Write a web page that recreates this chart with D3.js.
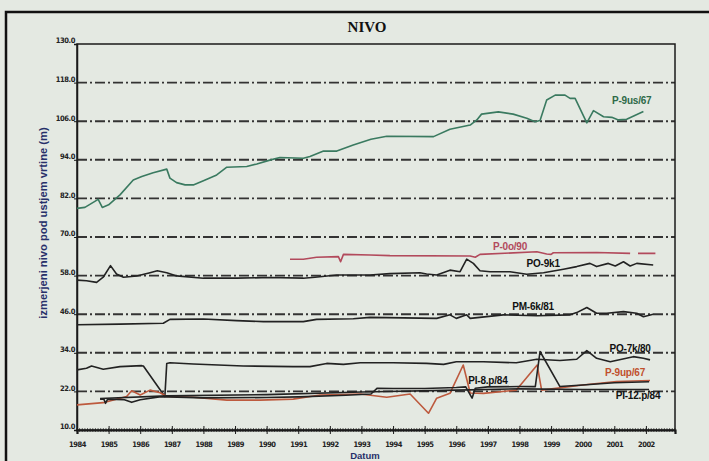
<!DOCTYPE html>
<html><head><meta charset="utf-8">
<script src="https://cdn.jsdelivr.net/npm/d3@7"></script>
<style>
html,body{margin:0;padding:0;background:#e4e9e2;}
svg{display:block;}
</style></head>
<body>
<script>
// ---- data ----
const yearTicks = d3.range(1984, 2003);
const yTicks = [10, 22, 34, 46, 58, 70, 82, 94, 106, 118, 130];

const p9us67 = [[1984.0,78.9],[1984.25,79.2],[1984.67,81.7],[1984.8,79.2],[1985.0,80.0],[1985.36,83.1],[1985.78,87.7],[1986.05,88.8],[1986.41,90.0],[1986.84,91.1],[1986.94,88.3],[1987.15,86.9],[1987.42,86.2],[1987.68,86.2],[1988.0,87.5],[1988.42,89.3],[1988.74,91.7],[1989.37,91.9],[1989.69,92.7],[1990.1,93.9],[1990.42,94.7],[1991.16,94.5],[1991.37,95.0],[1991.8,96.7],[1992.22,96.7],[1992.74,98.6],[1993.3,100.4],[1993.8,101.3],[1995.28,101.2],[1995.8,103.5],[1996.44,104.8],[1996.65,106.4],[1996.8,108.2],[1997.33,108.9],[1997.8,108.2],[1998.23,106.9],[1998.49,105.8],[1998.65,106.2],[1998.86,112.6],[1999.13,114.1],[1999.44,114.1],[1999.6,113.1],[1999.76,113.1],[2000.13,105.5],[2000.34,109.3],[2000.66,107.4],[2000.92,107.2],[2001.13,106.4],[2001.39,106.6],[2001.92,109.0]];

const p0o90 = [[1990.74,63.1],[1991.16,63.1],[1991.58,63.7],[1992.27,63.9],[1992.34,62.3],[1992.43,64.6],[1993.27,64.4],[1993.9,64.2],[1996.44,64.1],[1996.6,63.7],[1996.75,64.6],[1998.55,65.4],[1998.86,64.7],[1999.0,64.6],[1999.07,65.1],[2000.44,65.2],[2001.5,64.9],[2001.6,null],[2001.75,64.9],[2002.3,64.9]];

const po9k1 = [[1984.0,56.6],[1984.3,56.4],[1984.62,55.9],[1984.83,57.5],[1985.06,61.1],[1985.25,58.5],[1985.47,57.5],[1985.89,57.9],[1986.31,58.9],[1986.54,59.5],[1986.84,58.9],[1987.15,57.9],[1988.0,57.2],[1989.05,57.2],[1990.1,57.4],[1991.16,57.2],[1991.53,57.5],[1992.22,58.2],[1993.27,58.2],[1993.9,58.6],[1994.85,58.9],[1995.06,58.5],[1995.38,58.2],[1995.8,59.7],[1996.12,59.2],[1996.33,63.1],[1996.54,61.8],[1996.75,59.5],[1997.07,59.2],[1997.7,59.2],[1998.23,58.4],[1998.76,58.9],[1999.39,60.0],[1999.81,60.8],[2000.23,61.8],[2000.44,60.8],[2000.81,61.8],[2001.03,61.0],[2001.29,62.3],[2001.5,61.0],[2001.71,61.8],[2002.23,61.3]];

const pm6k81 = [[1984.0,42.7],[1985.36,42.9],[1986.73,43.2],[1986.94,44.4],[1988.0,44.5],[1989.05,44.0],[1989.9,43.7],[1991.16,43.7],[1991.58,44.4],[1992.74,44.6],[1993.27,45.0],[1995.38,44.7],[1995.8,45.8],[1996.0,44.7],[1996.33,45.8],[1996.44,44.7],[1997.49,45.8],[1998.55,45.5],[1999.6,45.8],[1999.81,46.5],[2000.13,48.1],[2000.44,46.3],[2000.76,46.3],[2001.29,46.8],[2001.71,46.3],[2001.92,45.2],[2002.23,46.0]];

const po7k80 = [[1984.0,28.7],[1984.3,29.2],[1984.46,29.9],[1984.83,28.9],[1985.36,29.7],[1986.05,30.0],[1986.1,29.9],[1986.78,20.4],[1986.84,30.7],[1986.94,30.9],[1987.68,30.5],[1989.26,29.9],[1990.84,29.7],[1991.37,29.7],[1991.9,30.7],[1992.43,30.4],[1992.96,30.9],[1994.0,30.9],[1995.06,30.7],[1995.6,30.4],[1996.0,31.2],[1996.86,31.2],[1997.9,30.9],[1998.55,32.0],[1999.28,31.6],[1999.81,32.0],[2000.13,34.7],[2000.44,32.3],[2000.87,31.2],[2001.6,32.8],[2001.92,32.3],[2002.13,31.8]];

const p9up67 = [[1984.0,17.8],[1984.83,18.5],[1985.57,20.4],[1985.73,22.2],[1986.0,20.9],[1986.31,22.4],[1986.63,21.6],[1986.84,20.4],[1987.68,20.2],[1988.74,19.3],[1989.79,19.3],[1990.84,19.6],[1991.69,20.9],[1992.96,21.2],[1993.8,20.2],[1994.54,21.2],[1995.12,15.2],[1995.38,19.9],[1995.8,21.4],[1996.22,30.2],[1996.44,21.5],[1996.86,21.4],[1997.9,22.4],[1998.56,30.2],[1998.7,22.4],[2000.0,24.0],[2001.07,25.1],[2002.13,25.4]];

const pi8p84 = [[1984.73,19.6],[1984.85,19.6],[1984.9,18.3],[1984.97,19.6],[1985.5,19.4],[1985.73,18.6],[1986.0,19.4],[1986.6,20.3],[1986.9,20.3],[1988.0,20.0],[1990.0,20.1],[1991.0,20.3],[1992.5,20.8],[1993.3,21.2],[1993.5,23.0],[1994.0,22.9],[1995.0,22.9],[1996.0,23.2],[1996.3,23.4],[1996.5,19.9],[1996.6,23.0],[1997.0,23.4],[1998.0,23.5],[1998.5,23.5],[1998.65,34.4],[1999.28,23.5],[2000.0,24.0],[2001.0,24.7],[2002.1,25.0]];

const pi12p84 = [[1984.73,19.8],[1986.84,20.6],[1990.0,21.0],[1993.0,21.8],[1996.0,22.4],[1998.0,22.8],[2000.0,22.6],[2002.1,22.6]];

const seriesList = [
  {name:"P-9us/67", data:p9us67, color:"#3a7a60", label:"#2e6a48", lx:2001.55, ly:111.4},
  {name:"P-0o/90", data:p0o90, color:"#b24a5c", label:"#b24a5c", lx:1997.7, ly:66.0},
  {name:"PO-9k1", data:po9k1, color:"#222", label:"#111", lx:1998.75, ly:60.6},
  {name:"PM-6k/81", data:pm6k81, color:"#222", label:"#111", lx:1998.43, ly:47.3},
  {name:"PO-7k/80", data:po7k80, color:"#222", label:"#111", lx:2001.5, ly:34.4},
  {name:"P-9up/67", data:p9up67, color:"#bd5a3e", label:"#c0502d", lx:2001.34, ly:26.8},
  {name:"PI-8.p/84", data:pi8p84, color:"#222", label:"#111", lx:1997.0, ly:24.3},
  {name:"PI-12.p/84", data:pi12p84, color:"#222", label:"#111", lx:2001.75, ly:19.5}
];
const title = "NIVO";
const yTitle = "izmerjeni nivo pod ustjem vrtine (m)";
const xTitle = "Datum";

// ---- drawing ----
const W = 709, H = 461;
const svg = d3.select("body").append("svg").attr("width", W).attr("height", H);
svg.append("rect").attr("width", W).attr("height", H).attr("fill", "#e4e9e2");

// outer frame
svg.append("rect").attr("x", 6).attr("y", 12).attr("width", 712).attr("height", 470)
  .attr("fill", "none").attr("stroke", "#111").attr("stroke-width", 2.5);

const x = d3.scaleLinear().domain([1984, 2002.92]).range([77, 675]);
const y = d3.scaleLinear().domain([10, 130]).range([430, 44]);

// gridlines
svg.append("g").selectAll("line").data(yTicks.filter(d => d > 10 && d < 130)).join("line")
  .attr("x1", x.range()[0]).attr("x2", x.range()[1])
  .attr("y1", d => y(d)).attr("y2", d => y(d))
  .attr("stroke", "#333").attr("stroke-width", 1.9)
  .attr("stroke-dasharray", "10,3,2,3");

// plot border
svg.append("rect").attr("x", x.range()[0]).attr("y", y(130)).attr("width", x.range()[1] - x.range()[0]).attr("height", y(10) - y(130))
  .attr("fill", "none").attr("stroke", "#1a1a1a").attr("stroke-width", 1.5);

// y axis
const yAxis = d3.axisLeft(y).tickValues(yTicks).tickFormat(d3.format(".1f")).tickSize(3);
const gy = svg.append("g").attr("transform", `translate(${x.range()[0]},0)`).call(yAxis);
gy.select(".domain").attr("stroke", "#1a1a1a").attr("stroke-width", 1.5);
gy.selectAll(".tick line").attr("stroke", "#1a1a1a");
gy.selectAll(".tick text").attr("font-family", "'Liberation Sans Narrow','DejaVu Sans Condensed',sans-serif")
  .attr("font-size", 7.5).attr("font-weight", "bold").attr("fill", "#222").attr("letter-spacing", -0.4)
  .attr("dy", "-0.15em").attr("x", -2);

// x axis with minor ticks
const minor = d3.range(0, 19 * 12 + 11).map(i => 1984 + i / 12).filter(v => v <= 2002.92);
svg.append("g").selectAll("line").data(minor).join("line")
  .attr("x1", d => x(d)).attr("x2", d => x(d)).attr("y1", y(10) - 1.8).attr("y2", y(10) + 1.8)
  .attr("stroke", "#1a1a1a").attr("stroke-width", 0.8);
const xAxis = d3.axisBottom(x).tickValues(yearTicks).tickFormat(d3.format("d")).tickSize(4).tickPadding(8);
const gx = svg.append("g").attr("transform", `translate(0,${y(10)})`).call(xAxis);
gx.select(".domain").attr("stroke", "#1a1a1a").attr("stroke-width", 2.2);
gx.selectAll(".tick line").attr("stroke", "#1a1a1a").attr("stroke-width", 1).attr("y1", -4);
gx.selectAll(".tick text").attr("font-family", "'Liberation Sans Narrow','DejaVu Sans Condensed',sans-serif")
  .attr("font-size", 7.5).attr("font-weight", "bold").attr("fill", "#222").attr("letter-spacing", -0.5);

// lines
const line = d3.line().defined(d => d[1] != null).x(d => x(d[0])).y(d => y(d[1]));
const gl = svg.append("g");
seriesList.forEach(s => {
  gl.append("path").datum(s.data).attr("d", line).attr("fill", "none")
    .attr("stroke", s.color).attr("stroke-width", 1.6).attr("stroke-linejoin", "round");
});
// series labels
svg.append("g").selectAll("text").data(seriesList).join("text")
  .attr("x", d => x(d.lx)).attr("y", d => y(d.ly)).attr("text-anchor", "middle")
  .attr("font-family", "'Liberation Sans',Arial,sans-serif").attr("font-size", 10).attr("font-weight", "bold")
  .attr("letter-spacing", -0.2).attr("fill", d => d.label).text(d => d.name);

// titles
svg.append("text").attr("x", 367).attr("y", 32).attr("text-anchor", "middle")
  .attr("font-family", "'Liberation Serif','Times New Roman',serif").attr("font-size", 15).attr("font-weight", "bold")
  .attr("fill", "#111").text(title);
svg.append("text").attr("transform", `translate(47,223) rotate(-90)`).attr("text-anchor", "middle")
  .attr("font-family", "'Liberation Sans',Arial,sans-serif").attr("font-size", 11.2).attr("font-weight", "bold")
  .attr("fill", "#27306a").text(yTitle);
svg.append("text").attr("x", 365).attr("y", 459).attr("text-anchor", "middle")
  .attr("font-family", "'Liberation Sans',Arial,sans-serif").attr("font-size", 9.5).attr("font-weight", "bold")
  .attr("fill", "#27306a").text(xTitle);
</script>
</body></html>
